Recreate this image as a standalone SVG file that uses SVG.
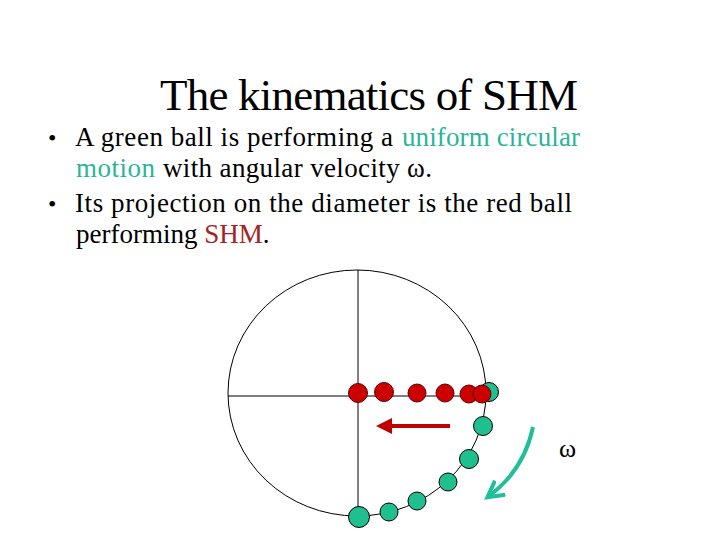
<svg xmlns="http://www.w3.org/2000/svg" width="720" height="540" viewBox="0 0 720 540">
<defs>
<style>
.t{font-family:"Liberation Serif","Times New Roman",serif;fill:#000}
.g{fill:#2ab59a}
.r{fill:#a52222}
.gb{fill:#1fbf8f;stroke:#000;stroke-width:1}
.rb{fill:#cc0000;stroke:#5a0000;stroke-width:1}
.ln{stroke:#000;stroke-width:1;fill:none}
</style>
<marker id="ah" markerWidth="4" markerHeight="4" refX="2" refY="2" orient="auto" markerUnits="strokeWidth">
<path d="M0,0 L4,2 L0,4 z" fill="#c00000"/>
</marker>
<marker id="ag" markerWidth="5" markerHeight="5" refX="3.5" refY="2.5" orient="auto" markerUnits="strokeWidth">
<path d="M0,0.3 L4,2.5 L0,4.7" fill="none" stroke="#1fbf9a" stroke-width="1"/>
</marker>
</defs>
<rect width="720" height="540" fill="#fff"/>
<g id="title"><text class="t" x="160" y="110" font-size="45" textLength="418" lengthAdjust="spacing">The kinematics of SHM</text></g>
<g id="bullets" class="t" font-size="27">
<text x="48" y="146" font-size="24">•</text>
<text x="75" y="146" textLength="318" lengthAdjust="spacing">A green ball is performing a</text>
<text class="g" x="402" y="146" textLength="178" lengthAdjust="spacing">uniform circular</text>
<text class="g" x="76" y="177" textLength="79" lengthAdjust="spacing">motion</text>
<text x="163" y="177" textLength="269" lengthAdjust="spacing">with angular velocity ω.</text>
<text x="48" y="212" font-size="24">•</text>
<text x="75" y="212" textLength="497" lengthAdjust="spacing">Its projection on the diameter is the red ball</text>
<text x="76" y="243">performing <tspan class="r">SHM</tspan>.</text>
</g>
<g id="circle">
<ellipse class="ln" cx="357" cy="393" rx="129" ry="123"/>
<line class="ln" x1="228" y1="396" x2="486" y2="396"/>
<line class="ln" x1="358" y1="270" x2="358" y2="516"/>
</g>
<g id="green-balls">
<circle class="gb" cx="489" cy="392" r="9.5"/>
<circle class="gb" cx="483" cy="426" r="9.5"/>
<circle class="gb" cx="469" cy="459" r="9.5"/>
<circle class="gb" cx="448" cy="482" r="9"/>
<circle class="gb" cx="417" cy="501" r="9"/>
<circle class="gb" cx="389" cy="512" r="9"/>
<circle class="gb" cx="359" cy="517" r="10.5"/>
</g>
<g id="red-balls">
<circle class="rb" cx="358" cy="393" r="9.5"/>
<circle class="rb" cx="384" cy="392" r="9.5"/>
<circle class="rb" cx="417" cy="393" r="9"/>
<circle class="rb" cx="445" cy="393" r="9"/>
<circle class="rb" cx="469" cy="394" r="9"/>
<circle class="rb" cx="482" cy="394" r="9"/>
</g>
<g id="connectors">
<line x1="450" y1="426" x2="384" y2="426" stroke="#c00000" stroke-width="4" marker-end="url(#ah)"/>
<path d="M533,427 Q524,470 489,496" fill="none" stroke="#1fbf9a" stroke-width="4" marker-end="url(#ag)"/>
</g>
<g id="omega"><text class="t" x="559" y="457" font-size="26">ω</text></g>
</svg>
